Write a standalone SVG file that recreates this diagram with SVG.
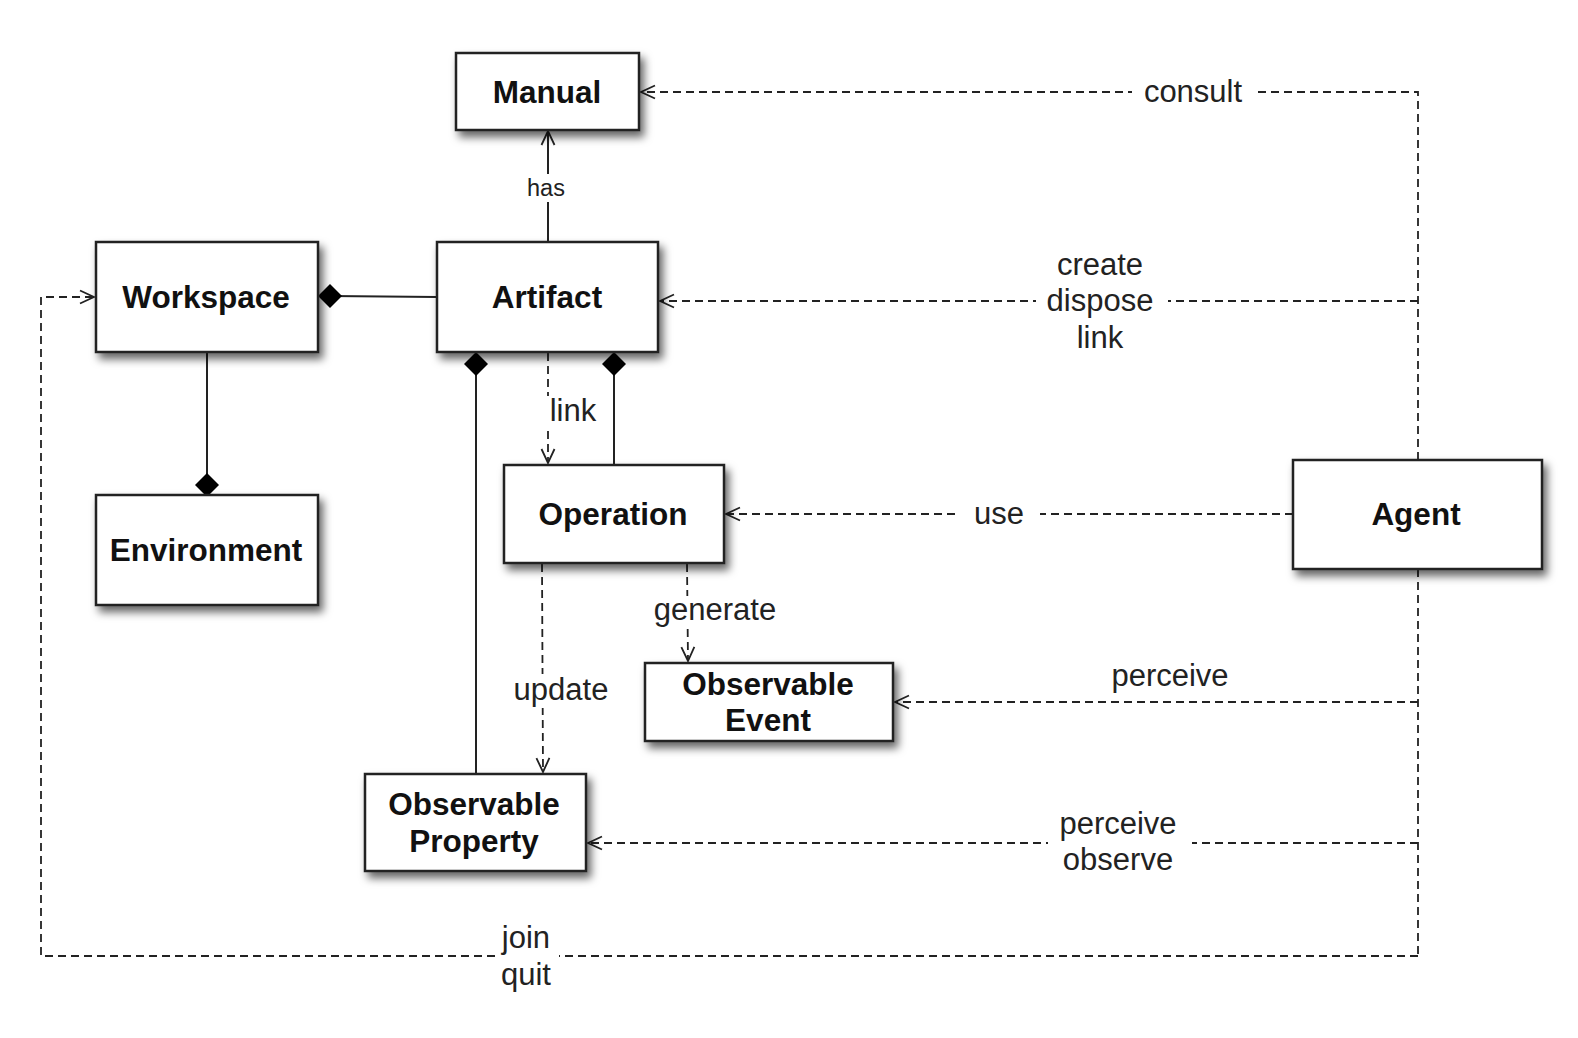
<svg xmlns="http://www.w3.org/2000/svg" width="1578" height="1038" viewBox="0 0 1578 1038">
<style>
.box{fill:#fff;stroke:#222;stroke-width:2.5;filter:url(#sh)}
.nt{font-family:"Liberation Sans",Arial,sans-serif;font-weight:bold;font-size:31.5px;fill:#111;text-anchor:middle}
.lb{font-family:"Liberation Sans",Arial,sans-serif;font-size:31px;fill:#222;text-anchor:middle}
.sm{font-family:"Liberation Sans",Arial,sans-serif;font-size:23.5px;fill:#222;text-anchor:middle}
.sol{fill:none;stroke:#222;stroke-width:2}
.dsh{fill:none;stroke:#222;stroke-width:1.8;stroke-dasharray:8,5}
.arr{marker-end:url(#ah)}
.gap{fill:#fff;stroke:none}
.dia{fill:#000;stroke:none}
</style>
<defs>
<filter id="sh" x="-20%" y="-20%" width="150%" height="160%">
<feDropShadow dx="4" dy="6" stdDeviation="4.5" flood-color="#000" flood-opacity="0.6"/>
</filter>
<marker id="ah" markerUnits="userSpaceOnUse" markerWidth="18" markerHeight="18" viewBox="0 0 18 18" refX="17" refY="9" orient="auto">
<path d="M3,2.5 L17,9 L3,15.5" fill="none" stroke="#222" stroke-width="1.8"/>
</marker>
</defs>
<rect width="1578" height="1038" fill="#fff"/>

<g id="connectors">
<!-- has -->
<path class="sol arr" d="M548,242 L548,131"/>
<rect class="gap" x="523" y="174" width="48" height="28"/>
<text class="sm" x="546" y="196">has</text>
<!-- consult -->
<path class="dsh arr" d="M1418,460 L1418,92 L641,92"/>
<rect class="gap" x="1132" y="78" width="122" height="30"/>
<text class="lb" x="1193" y="102">consult</text>
<!-- create dispose link -->
<path class="dsh arr" d="M1418,301 L660,301"/>
<rect class="gap" x="1036" y="286" width="132" height="32"/>
<text class="lb" x="1100" y="275">create</text>
<text class="lb" x="1100" y="311">dispose</text>
<text class="lb" x="1100" y="348">link</text>
<!-- use -->
<path class="dsh arr" d="M1293,514 L726,514"/>
<rect class="gap" x="960" y="500" width="80" height="30"/>
<text class="lb" x="999" y="524">use</text>
<!-- perceive (event) -->
<path class="dsh" d="M1418,569 L1418,956"/>
<path class="dsh arr" d="M1418,702 L895,702"/>
<text class="lb" x="1170" y="686">perceive</text>
<!-- perceive observe -->
<path class="dsh arr" d="M1418,843 L588,843"/>
<rect class="gap" x="1048" y="828" width="144" height="32"/>
<text class="lb" x="1118" y="834">perceive</text>
<text class="lb" x="1118" y="870">observe</text>
<!-- join quit -->
<path class="dsh arr" d="M1418,956 L41,956 L41,297 L94,297"/>
<rect class="gap" x="495" y="940" width="64" height="32"/>
<text class="lb" x="526" y="948">join</text>
<text class="lb" x="526" y="985">quit</text>
<!-- link artifact->operation -->
<path class="dsh arr" d="M548,353 L548,463"/>
<rect class="gap" x="544" y="396" width="8" height="32"/>
<text class="lb" x="573" y="421">link</text>
<!-- generate -->
<path class="dsh arr" d="M687,564 L688,661"/>
<rect class="gap" x="682" y="596" width="12" height="30"/>
<text class="lb" x="715" y="620">generate</text>
<!-- update -->
<path class="dsh arr" d="M542,564 L543,772"/>
<rect class="gap" x="537" y="674" width="12" height="34"/>
<text class="lb" x="561" y="700">update</text>
<!-- compositions -->
<path class="sol" d="M437,297 L330,296"/>
<polygon class="dia" points="318,296 330,284 342,296 330,308"/>
<path class="sol" d="M207,352 L207,485"/>
<polygon class="dia" points="207,473 219,485 207,497 195,485"/>
<path class="sol" d="M476,364 L476,774"/>
<polygon class="dia" points="476,352 488,364 476,376 464,364"/>
<path class="sol" d="M614,364 L614,465"/>
<polygon class="dia" points="614,352 626,364 614,376 602,364"/>
</g>

<g id="manual"><rect class="box" x="456" y="53" width="183" height="77"/><text class="nt" x="547" y="103">Manual</text></g>
<g id="artifact"><rect class="box" x="437" y="242" width="221" height="110"/><text class="nt" x="547" y="308">Artifact</text></g>
<g id="workspace"><rect class="box" x="96" y="242" width="222" height="110"/><text class="nt" x="206" y="308">Workspace</text></g>
<g id="environment"><rect class="box" x="96" y="495" width="222" height="110"/><text class="nt" x="206" y="561">Environment</text></g>
<g id="operation"><rect class="box" x="504" y="465" width="220" height="98"/><text class="nt" x="613" y="525">Operation</text></g>
<g id="observable-event"><rect class="box" x="645" y="663" width="248" height="78"/><text class="nt" x="768" y="695">Observable</text><text class="nt" x="768" y="731">Event</text></g>
<g id="observable-property"><rect class="box" x="365" y="774" width="221" height="97"/><text class="nt" x="474" y="815">Observable</text><text class="nt" x="474" y="852">Property</text></g>
<g id="agent"><rect class="box" x="1293" y="460" width="249" height="109"/><text class="nt" x="1416" y="525">Agent</text></g>
</svg>
